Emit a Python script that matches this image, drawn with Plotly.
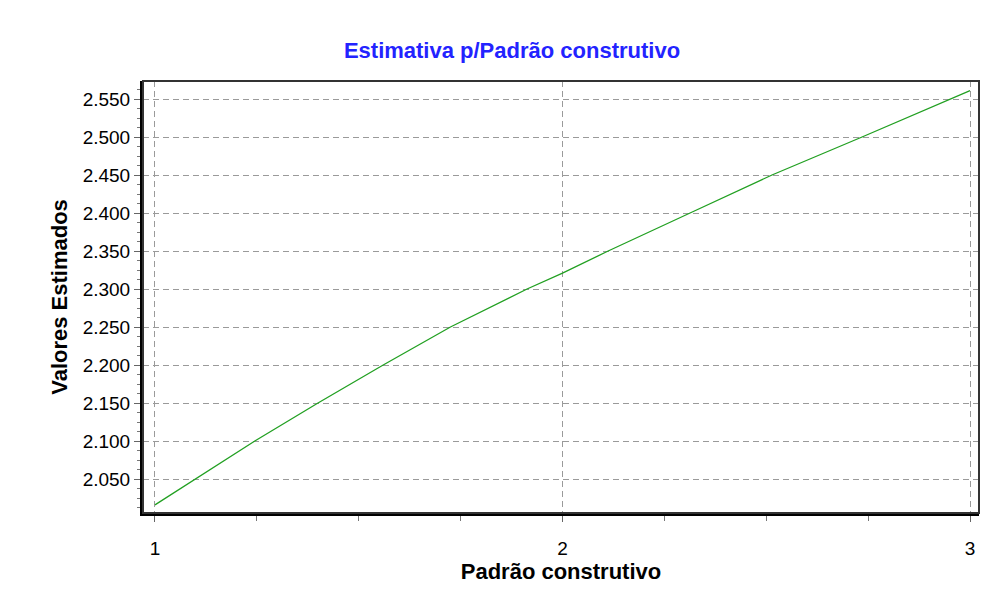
import plotly.graph_objects as go

# Data
padrao = [1.0, 1.245, 1.400, 1.560, 1.725, 1.913, 2.0, 2.112, 2.313, 2.514, 2.735, 3.0]
estimado = [2.016, 2.100, 2.150, 2.200, 2.250, 2.300, 2.321, 2.350, 2.400, 2.450, 2.500, 2.561]
y_ticks = [2.05, 2.10, 2.15, 2.20, 2.25, 2.30, 2.35, 2.40, 2.45, 2.50, 2.55]
x_ticks = [1, 2, 3]

FONT = "Liberation Sans, Arial, sans-serif"
W, H = 986, 588

fig = go.Figure()
fig.add_trace(go.Scatter(x=padrao, y=estimado, mode="lines",
                         line=dict(color="#22a022", width=1.3), showlegend=False))

fig.update_layout(
    width=W, height=H,
    margin=dict(l=135, r=15, t=73, b=83),
    paper_bgcolor="white", plot_bgcolor="white",
    title=dict(text="<b>Estimativa p/Padrão construtivo</b>", x=504 / W, xref="container",
               y=1 - 42 / H, yref="container", xanchor="center", yanchor="middle",
               font=dict(family=FONT, size=22, color="#2323ff")),
    xaxis=dict(range=[0.9706, 3.022], tickvals=x_ticks, ticktext=[str(v) for v in x_ticks],
               showline=True, linecolor="black", linewidth=3,
               ticks="outside", ticklen=6, tickcolor="#666", tickwidth=1,
               ticklabelstandoff=10,
               showgrid=True, gridcolor="#9a9a9a", griddash="6px,4px", gridwidth=1,
               zeroline=False,
               minor=dict(dtick=0.25, tick0=1, ticks="outside", ticklen=5, tickcolor="#777", showgrid=False),
               tickfont=dict(family=FONT, size=19, color="black"),
               title=dict(text="<b>Padrão construtivo</b>", standoff=5,
                          font=dict(family=FONT, size=22, color="black"))),
    yaxis=dict(range=[2.0053, 2.5737], tickvals=y_ticks, tickformat=".3f",
               showline=True, linecolor="black", linewidth=3,
               ticks="outside", ticklen=6, tickcolor="#666", tickwidth=1,
               showgrid=True, gridcolor="#9a9a9a", griddash="6px,4px", gridwidth=1,
               zeroline=False,
               minor=dict(dtick=0.0125, tick0=2.05, ticks="outside", ticklen=3, tickcolor="#777", showgrid=False),
               tickfont=dict(family=FONT, size=19, color="black"),
               title=dict(text="<b>Valores Estimados</b>", standoff=9,
                          font=dict(family=FONT, size=22, color="black"))),
    shapes=[dict(type="rect", xref="paper", yref="paper", x0=0, x1=1, y0=0, y1=1,
                 line=dict(color="#333", width=2), layer="above")],
)

fig.write_html("out.html")
